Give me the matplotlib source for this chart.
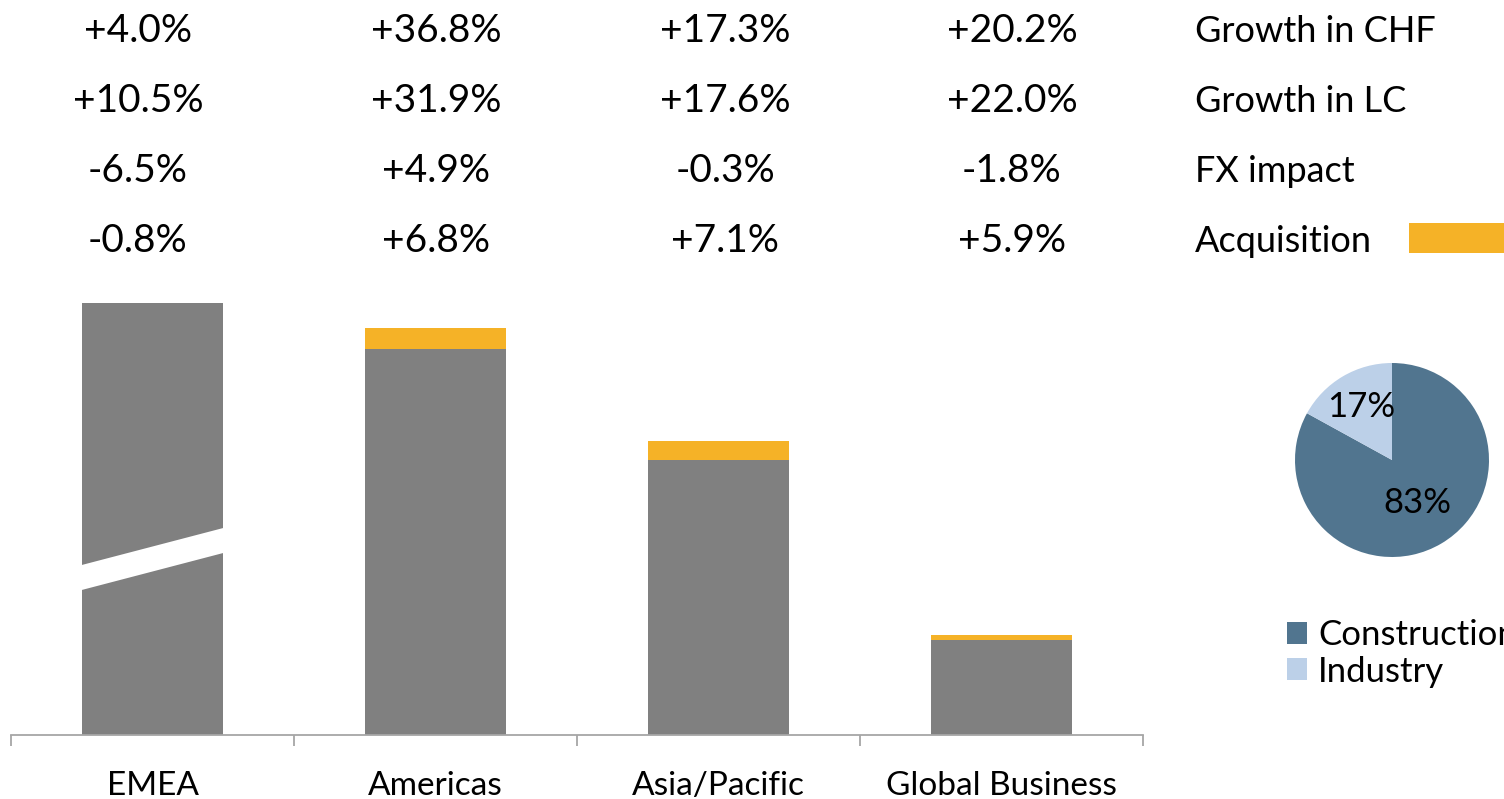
import matplotlib
matplotlib.use("Agg")
import matplotlib.pyplot as plt
from matplotlib.patches import Rectangle, Polygon
import numpy as np

plt.rcParams['font.family'] = ['Lato', 'DejaVu Sans']

# ---- data ----
regions = ["EMEA", "Americas", "Asia/Pacific", "Global Business"]
base_sales = [432, 386, 275, 95]        # arbitrary units (EMEA bar shown broken)
acquisition_sales = [0, 21, 19, 5]
growth_chf = ["+4.0%", "+36.8%", "+17.3%", "+20.2%"]
growth_lc = ["+10.5%", "+31.9%", "+17.6%", "+22.0%"]
fx_impact = ["-6.5%", "+4.9%", "-0.3%", "-1.8%"]
acquisition = ["-0.8%", "+6.8%", "+7.1%", "+5.9%"]
row_labels = ["Growth in CHF", "Growth in LC", "FX impact", "Acquisition"]
pie_labels = ["Construction", "Industry"]
pie_shares = [83, 17]

GRAY = "#808080"
ORANGE = "#F5B227"
CONSTR = "#51758F"
INDUS = "#BCD0E8"

W, H = 1504, 799
fig = plt.figure(figsize=(W / 100, H / 100), dpi=100)

def fx(px):
    return px / W

def fy(py):
    return 1 - py / H

# ---- bar axes ----
ax = fig.add_axes([fx(11), fy(735), fx(1143 - 11), (735 - 280) / H])
x = np.arange(len(regions))
bw = 0.5
ax.bar(x, base_sales, width=bw, color=GRAY, zorder=2)
ax.bar(x, acquisition_sales, width=bw, bottom=base_sales, color=ORANGE, zorder=2)
ax.set_xlim(-0.5, len(regions) - 0.5)
ax.set_ylim(0, 455)

# axis break on EMEA bar
slope = 74.0
y0_low, gap = 163.5, 25
xs = np.array([-0.3, 0.3])
poly = Polygon([[xs[0], y0_low + slope * xs[0]], [xs[1], y0_low + slope * xs[1]],
                [xs[1], y0_low + gap + slope * xs[1]], [xs[0], y0_low + gap + slope * xs[0]]],
               closed=True, facecolor="white", edgecolor="none", zorder=3)
ax.add_patch(poly)

for s in ["top", "right", "left"]:
    ax.spines[s].set_visible(False)
ax.spines["bottom"].set_color("#A6A6A6")
ax.spines["bottom"].set_linewidth(1.3)
ax.set_yticks([])
ax.set_xticks(x)
ax.set_xticklabels(regions, fontsize=24)
ax.tick_params(axis="x", which="major", length=0, pad=26)
ax.set_xticks(np.arange(-0.5, len(regions), 1.0), minor=True)
ax.tick_params(axis="x", which="minor", length=8, width=1.3, color="#A6A6A6", direction="out")

# ---- header table ----
col_centers = [138, 436, 725, 1012]
baselines = [42, 112, 182, 252]
rows = [growth_chf, growth_lc, fx_impact, acquisition]
for row, bl, lab in zip(rows, baselines, row_labels):
    for v, cx in zip(row, col_centers):
        fig.text(fx(cx), fy(bl), v, ha="center", va="baseline", fontsize=28)
    fig.text(fx(1195), fy(bl), lab, ha="left", va="baseline", fontsize=26)

fig.patches.append(Rectangle((fx(1409), fy(253)), fx(1504 - 1409), (253 - 223) / H,
                             transform=fig.transFigure, facecolor=ORANGE, edgecolor="none"))

# ---- pie ----
pax = fig.add_axes([fx(1295), fy(557), fx(194), 194 / H])
wedges, _ = pax.pie(pie_shares, colors=[CONSTR, INDUS], startangle=90, counterclock=False,
                    wedgeprops=dict(linewidth=0))
pax.set_xlim(-1, 1)
pax.set_ylim(-1, 1)
pax.set_aspect("equal")
dists = [0.51, 0.63]
for w, share, d in zip(wedges, pie_shares, dists):
    ang = np.deg2rad((w.theta1 + w.theta2) / 2)
    pax.text(d * np.cos(ang), d * np.sin(ang), f"{share}%", ha="center", va="center",
             fontsize=25, color="black")

fig.legend(wedges, pie_labels, loc="upper left", bbox_to_anchor=(fx(1287), fy(619)),
           frameon=False, fontsize=25, handlelength=0.58, handleheight=0.58,
           handletextpad=0.32, labelspacing=0.13, borderpad=0, borderaxespad=0)

fig.savefig("out.png", dpi=100)
